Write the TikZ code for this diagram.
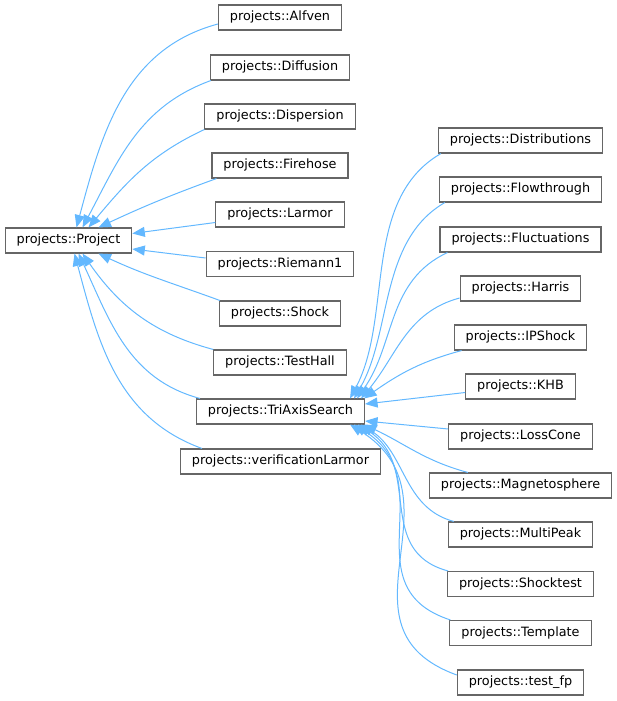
\documentclass[tikz,border=0pt]{standalone}
\usepackage{fontspec}
\setmainfont{DejaVu Sans}
\usetikzlibrary{arrows.meta}
\definecolor{inherit}{RGB}{99,184,255}
\definecolor{frame}{RGB}{102,102,102}
\tikzstyle{cls}=[draw=frame, line width=1.1pt, fill=white, font=\fontsize{12.8}{14}\selectfont,
  inner xsep=11.5pt, inner ysep=0pt, minimum height=25pt, text height=9.5pt, text depth=2.8pt]
\tikzstyle{inh}=[-{Triangle[length=12.5pt,width=10pt]}, draw=inherit, line width=1pt]

\begin{document}
\begin{tikzpicture}[x=1pt,y=1pt]
  \useasboundingbox (0,0) rectangle (617,-701);

  %% base class
  \draw (68.5,-240.5) node[cls] (project) {projects::Project};

  %% direct children
  \draw (280,-17.5) node[cls] (alfven) {projects::Alfven};
  \draw (280,-67.5) node[cls] (diffusion) {projects::Diffusion};
  \draw (280,-116.5) node[cls] (dispersion) {projects::Dispersion};
  \draw (280,-165.5) node[cls] (firehose) {projects::Firehose};
  \draw (280,-214.5) node[cls] (larmor) {projects::Larmor};
  \draw (280,-264) node[cls] (riemann) {projects::Riemann1};
  \draw (280,-313.5) node[cls] (shock) {projects::Shock};
  \draw (280,-362.5) node[cls] (testhall) {projects::TestHall};
  \draw (280.5,-411.5) node[cls] (triaxis) {projects::TriAxisSearch};
  \draw (280.5,-461.5) node[cls] (verif) {projects::verificationLarmor};

  %% children of TriAxisSearch
  \draw (520.5,-140.5) node[cls] (distributions) {projects::Distributions};
  \draw (520.5,-189.5) node[cls] (flowthrough) {projects::Flowthrough};
  \draw (520.5,-239.5) node[cls] (fluctuations) {projects::Fluctuations};
  \draw (520.5,-288.5) node[cls] (harris) {projects::Harris};
  \draw (520.5,-337.5) node[cls] (ipshock) {projects::IPShock};
  \draw (520.5,-386.5) node[cls] (khb) {projects::KHB};
  \draw (520.5,-436.5) node[cls] (losscone) {projects::LossCone};
  \draw (520.5,-485.5) node[cls] (magneto) {projects::Magnetosphere};
  \draw (520.5,-534.5) node[cls] (multipeak) {projects::MultiPeak};
  \draw (520.5,-584) node[cls] (shocktest) {projects::Shocktest};
  \draw (520.5,-633) node[cls] (template) {projects::Template};
  \draw (520.5,-682.5) node[cls] (testfp) {projects::test\_fp};

  %% edges to Project
  \draw[inh] ([yshift=-6.5]alfven.west) to[out=195,in=75] ([xshift=8]project.north);
  \draw[inh] ([xshift=1]diffusion.south west) to[out=200,in=62] ([xshift=14]project.north);
  \draw[inh] (dispersion.south west) to[out=205,in=50] ([xshift=20]project.north);
  \draw[inh] ([xshift=5]firehose.south west) to[out=200,in=25] ([xshift=30]project.north);
  \draw[inh] ([yshift=-8]larmor.west) -- ([yshift=7]project.east);
  \draw[inh] ([yshift=6]riemann.west) -- ([yshift=-8.5]project.east);
  \draw[inh] ([xshift=1]shock.north west) to[out=160,in=-25] ([xshift=30]project.south);
  \draw[inh] (testhall.north west) to[out=165,in=-55] ([xshift=14]project.south);
  \draw[inh] ([xshift=4]triaxis.north west) to[out=165,in=-65] ([xshift=10]project.south);
  \draw[inh] ([xshift=22]verif.north west) to[out=160,in=-75] ([xshift=6]project.south);

  %% edges to TriAxisSearch
  \draw[inh] ([xshift=3]distributions.south west) to[out=210,in=62,looseness=.9] ([xshift=-15]triaxis.north east);
  \draw[inh] ([xshift=6]flowthrough.south west) to[out=210,in=60,looseness=.9] ([xshift=-11]triaxis.north east);
  \draw[inh] ([xshift=8]fluctuations.south west) to[out=205,in=55] ([xshift=-8]triaxis.north east);
  \draw[inh] ([yshift=-9.5]harris.west) to[out=195,in=50] ([xshift=-4]triaxis.north east);
  \draw[inh] ([xshift=8]ipshock.south west) to[out=195,in=35] ([xshift=-1]triaxis.north east);
  \draw[inh] ([yshift=-6]khb.west) -- ([yshift=7.5]triaxis.east);
  \draw[inh] ([yshift=7.5]losscone.west) -- ([yshift=-9.5]triaxis.east);
  \draw[inh] ([xshift=39]magneto.north west) to[out=165,in=-25] ([xshift=-1]triaxis.south east);
  \draw[inh] ([xshift=6]multipeak.north west) to[out=165,in=-32] ([xshift=-4]triaxis.south east);
  \draw[inh] ([xshift=1]shocktest.north west) to[out=165,in=-32,looseness=1.15] ([xshift=-7]triaxis.south east);
  \draw[inh] ([xshift=1]template.north west) to[out=162,in=-32,looseness=1.25] ([xshift=-11]triaxis.south east);
  \draw[inh] ([yshift=7.5]testfp.west) to[out=160,in=-32,looseness=1.3] ([xshift=-15]triaxis.south east);
\end{tikzpicture}
\end{document}
